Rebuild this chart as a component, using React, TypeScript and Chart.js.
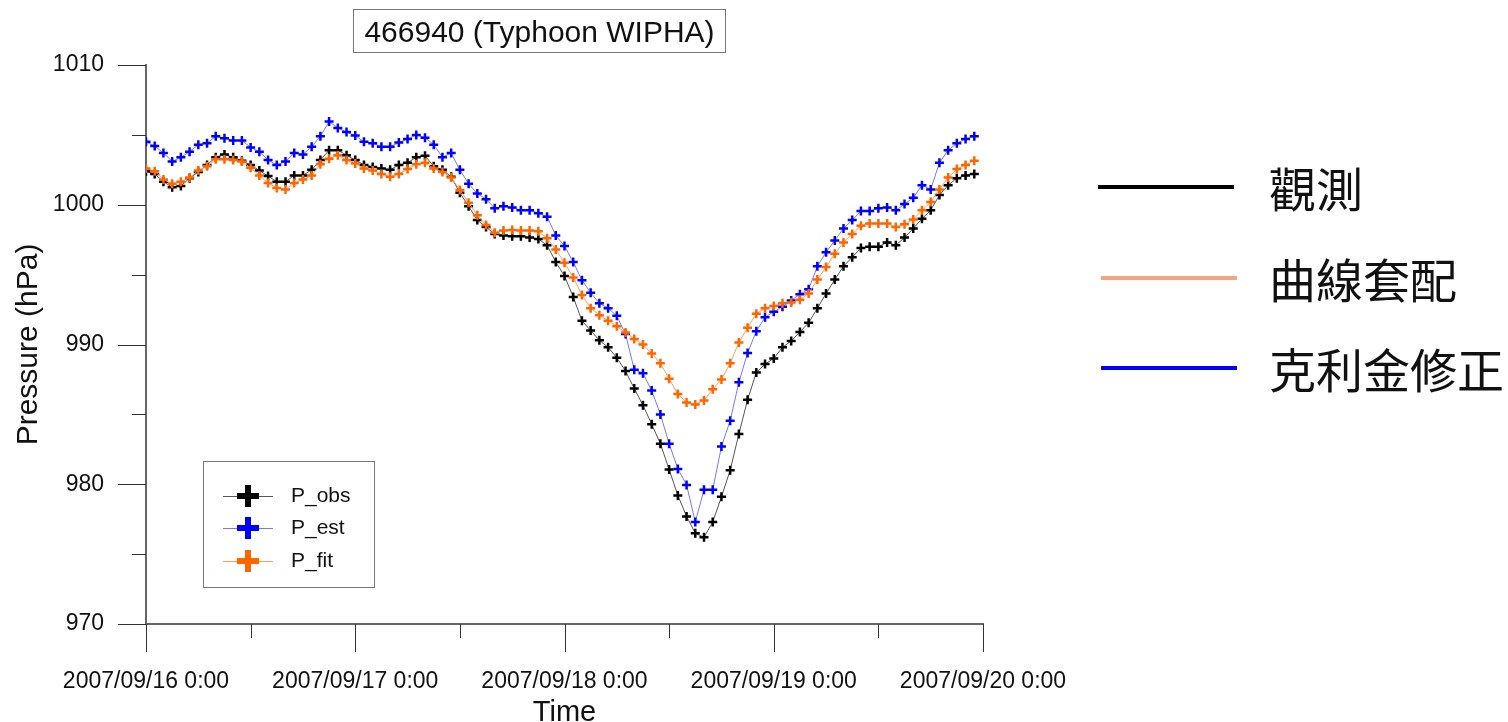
import React, { useEffect, useRef } from 'react';
import { Chart, registerables } from 'chart.js';

Chart.register(...registerables);

const FONT = '"Liberation Sans", Arial, sans-serif';
const CJK = '"Noto Sans CJK TC", "Noto Sans CJK SC", sans-serif';

// hours since 2007/09/16 0:00
const hours = [
  0, 1, 2, 3, 4, 5, 6, 7, 8, 9, 10, 11, 12, 13, 14, 15, 16, 17, 18, 19, 20, 21, 22, 23,
  24, 25, 26, 27, 28, 29, 30, 31, 32, 33, 34, 35, 36, 37, 38, 39, 40, 41, 42, 43, 44, 45, 46, 47,
  48, 49, 50, 51, 52, 53, 54, 55, 56, 57, 58, 59, 60, 61, 62, 63, 64, 65, 66, 67, 68, 69, 70, 71,
  72, 73, 74, 75, 76, 77, 78, 79, 80, 81, 82, 83, 84, 85, 86, 87, 88, 89, 90, 91, 92, 93, 94, 95,
];

const xTickLabels = ['2007/09/16 0:00', '2007/09/17 0:00', '2007/09/18 0:00', '2007/09/19 0:00', '2007/09/20 0:00'];

const pObs = [
  1002.4, 1002.2, 1001.65, 1001.25, 1001.35, 1001.9, 1002.35, 1002.85, 1003.4, 1003.6, 1003.4, 1003.15,
  1002.85, 1002.45, 1002.05, 1001.65, 1001.65, 1002.1, 1002.1, 1002.5, 1003.2, 1003.9, 1003.9, 1003.55,
  1003.2, 1002.85, 1002.7, 1002.6, 1002.5, 1002.85, 1003.0, 1003.4, 1003.5, 1002.75, 1002.5, 1002.0,
  1000.85, 999.9, 998.9, 998.4, 997.9, 997.8, 997.75, 997.75, 997.65, 997.55, 997.1, 995.9,
  994.9, 993.4, 991.7, 991.0, 990.3, 989.8, 989.05, 988.1, 986.85, 985.65, 984.3, 982.9,
  981.05, 979.2, 977.7, 976.5, 976.2, 977.3, 979.1, 981.0, 983.6, 986.05, 988.0, 988.6,
  989.0, 989.8, 990.25, 990.9, 991.55, 992.6, 993.65, 994.65, 995.6, 996.25, 996.9, 997.0,
  997.0, 997.3, 997.1, 997.65, 998.3, 999.0, 999.6, 1000.7, 1001.4, 1001.9, 1002.1, 1002.2,
];

const pEst = [
  1004.5, 1004.2, 1003.7, 1003.1, 1003.4, 1003.8, 1004.3, 1004.4, 1004.9, 1004.75, 1004.6, 1004.6,
  1004.1, 1003.8, 1003.2, 1002.85, 1003.1, 1003.7, 1003.6, 1004.15, 1004.9, 1005.95, 1005.5, 1005.2,
  1004.95, 1004.5, 1004.4, 1004.15, 1004.15, 1004.45, 1004.7, 1005.0, 1004.8, 1004.3, 1003.4, 1003.7,
  1002.5, 1001.5, 1000.8, 1000.4, 999.75, 999.9, 999.8, 999.6, 999.6, 999.4, 999.15, 997.8,
  997.05, 995.9, 994.6, 993.7, 992.95, 992.6, 992.05, 990.75, 988.2, 987.95, 986.7, 985.0,
  982.9, 981.1, 979.95, 977.3, 979.6, 979.6, 982.7, 984.55, 987.3, 989.4, 990.95, 991.95,
  992.35, 992.7, 993.15, 993.6, 993.95, 995.6, 996.6, 997.45, 998.3, 998.9, 999.55, 999.55,
  999.75, 999.8, 999.6, 1000.05, 1000.5, 1001.4, 1001.1, 1003.0, 1003.9, 1004.4, 1004.7, 1004.9,
];

const pFit = [
  1002.6, 1002.4, 1001.8, 1001.5, 1001.65, 1001.95, 1002.45, 1002.75, 1003.25, 1003.25, 1003.2, 1003.1,
  1002.65, 1002.1, 1001.55, 1001.2, 1001.1, 1001.55, 1001.8, 1002.1, 1002.9, 1003.3, 1003.55, 1003.2,
  1002.95, 1002.6, 1002.45, 1002.2, 1002.0, 1002.2, 1002.55, 1002.9, 1003.0, 1002.6, 1002.35, 1001.95,
  1001.05, 1000.15, 999.25, 998.55, 998.0, 998.15, 998.2, 998.15, 998.15, 998.1, 997.6, 996.8,
  995.85, 994.8, 993.55, 992.6, 992.1, 991.7, 991.3, 990.85, 990.4, 990.0, 989.35, 988.65,
  987.55, 986.45, 985.85, 985.7, 986.0, 986.8, 987.5, 988.65, 990.15, 991.2, 992.2, 992.6,
  992.75, 992.95, 993.0, 993.2, 993.65, 994.65, 995.55, 996.5, 997.3, 997.9, 998.5, 998.65,
  998.65, 998.65, 998.4, 998.6, 998.95, 999.6, 1000.2, 1001.1, 1001.95, 1002.55, 1002.85, 1003.15,
];

const seriesNames = ['P_obs', 'P_est', 'P_fit'];
const markerColors = ['#000000', '#0000ff', '#ff6600'];
const lineColors = ['#555555', '#7777ff', '#ff9b5e'];

const chartTitle = '466940 (Typhoon WIPHA)';
const sideLegendNames = ['觀測', '曲線套配', '克利金修正'];
const sideLegendColors = ['#000000', '#f5a57b', '#0000ff'];

const decorPlugin = {
  id: 'decor',
  afterDraw(chart: any) {
    const ctx = chart.ctx;
    const xs = chart.scales.x;
    const ys = chart.scales.y;
    const area = chart.chartArea;
    ctx.save();
    // axis ticks
    ctx.strokeStyle = '#333';
    ctx.lineWidth = 1;
    xs.ticks.forEach((t: any) => {
      const px = Math.round(xs.getPixelForValue(t.value)) + 0.5;
      const len = t.value % 24 === 0 ? 28 : 14;
      ctx.beginPath();
      ctx.moveTo(px, area.bottom);
      ctx.lineTo(px, area.bottom + len);
      ctx.stroke();
    });
    ys.ticks.forEach((t: any) => {
      const py = Math.round(ys.getPixelForValue(t.value)) + 0.5;
      const len = t.value % 10 === 0 ? 28 : 14;
      ctx.beginPath();
      ctx.moveTo(area.left - len, py);
      ctx.lineTo(area.left, py);
      ctx.stroke();
    });

    // title box
    ctx.strokeStyle = '#777';
    ctx.lineWidth = 1;
    ctx.strokeRect(353.5, 9.5, 372, 43);
    ctx.fillStyle = '#111';
    ctx.font = `30px ${FONT}`;
    ctx.textAlign = 'center';
    ctx.textBaseline = 'alphabetic';
    ctx.fillText(chartTitle, 539.5, 42);

    // inner legend
    ctx.strokeStyle = '#777';
    ctx.strokeRect(203.5, 461.5, 171, 126);
    const ly = [496, 528, 561];
    seriesNames.forEach((name, i) => {
      const y = ly[i];
      ctx.strokeStyle = lineColors[i];
      ctx.lineWidth = 1;
      ctx.beginPath();
      ctx.moveTo(223, y + 0.5);
      ctx.lineTo(273, y + 0.5);
      ctx.stroke();
      ctx.strokeStyle = markerColors[i];
      ctx.lineWidth = 6;
      ctx.beginPath();
      ctx.moveTo(237, y);
      ctx.lineTo(259, y);
      ctx.moveTo(248, y - 11);
      ctx.lineTo(248, y + 11);
      ctx.stroke();
      ctx.fillStyle = '#111';
      ctx.font = `21px ${FONT}`;
      ctx.textAlign = 'left';
      ctx.textBaseline = 'middle';
      ctx.fillText(name, 291, y);
    });

    // side legend
    const sy = [187, 278, 368];
    const sx0 = [1098, 1101, 1101];
    sideLegendNames.forEach((name, i) => {
      ctx.strokeStyle = sideLegendColors[i];
      ctx.lineWidth = 4;
      ctx.beginPath();
      ctx.moveTo(sx0[i], sy[i]);
      ctx.lineTo(sx0[i] + 136, sy[i]);
      ctx.stroke();
      ctx.fillStyle = '#111';
      ctx.font = `47px ${CJK}`;
      ctx.textAlign = 'left';
      ctx.textBaseline = 'middle';
      ctx.fillText(name, 1269, sy[i] + 2);
    });
    ctx.restore();
  },
};

export default function App() {
  const ref = useRef<HTMLCanvasElement | null>(null);
  useEffect(() => {
    if (!ref.current) return;
    const series = [pObs, pEst, pFit];
    const chart = new Chart(ref.current, {
      type: 'line',
      data: {
        labels: hours,
        datasets: series.map((d, i) => ({
          label: seriesNames[i],
          data: d,
          borderColor: lineColors[i],
          borderWidth: 1,
          pointStyle: 'cross',
          pointRadius: 4.5,
          pointBorderWidth: 2.5,
          pointBorderColor: markerColors[i],
          pointBackgroundColor: markerColors[i],
          fill: false,
          tension: 0,
          order: [3, 2, 1][i],
        })),
      },
      options: {
        responsive: false,
        animation: false,
        devicePixelRatio: 1,
        layout: { padding: { left: 0, right: 525, top: 65, bottom: 0 } },
        plugins: {
          legend: { display: false },
          tooltip: { enabled: false },
          title: { display: false },
        },
        scales: {
          x: {
            type: 'linear',
            min: 0,
            max: 96,
            grid: { display: false },
            border: { display: true, color: '#666', width: 2 },
            ticks: {
              stepSize: 12,
              autoSkip: false,
              maxRotation: 0,
              padding: 36,
              color: '#111',
              font: { family: FONT, size: 23 },
              callback: (v: any) => (v % 24 === 0 ? xTickLabels[v / 24] : ''),
            },
            title: {
              display: true,
              text: 'Time',
              color: '#111',
              font: { family: FONT, size: 29, lineHeight: 1 },
              padding: { top: 0, bottom: -5 },
            },
            afterFit: (s: any) => {
              s.height = 722 - 624;
            },
          },
          y: {
            min: 970,
            max: 1010,
            grid: { display: false },
            border: { display: true, color: '#666', width: 2 },
            ticks: {
              stepSize: 5,
              padding: 34,
              color: '#111',
              font: { family: FONT, size: 23 },
              callback: (v: any) => (v % 10 === 0 ? String(v) : ''),
            },
            title: {
              display: true,
              text: 'Pressure (hPa)',
              color: '#111',
              font: { family: FONT, size: 30, lineHeight: 1 },
              padding: { top: 14, bottom: 0 },
            },
            afterFit: (s: any) => {
              s.width = 146;
            },
          },
        },
      },
      plugins: [decorPlugin],
    });
    return () => chart.destroy();
  }, []);
  return (
    <div style={{ position: 'fixed', left: 0, top: 0, width: 1508, height: 722, background: '#fff' }}>
      <canvas ref={ref} width={1508} height={722} style={{ display: 'block', width: 1508, height: 722 }} />
    </div>
  );
}
